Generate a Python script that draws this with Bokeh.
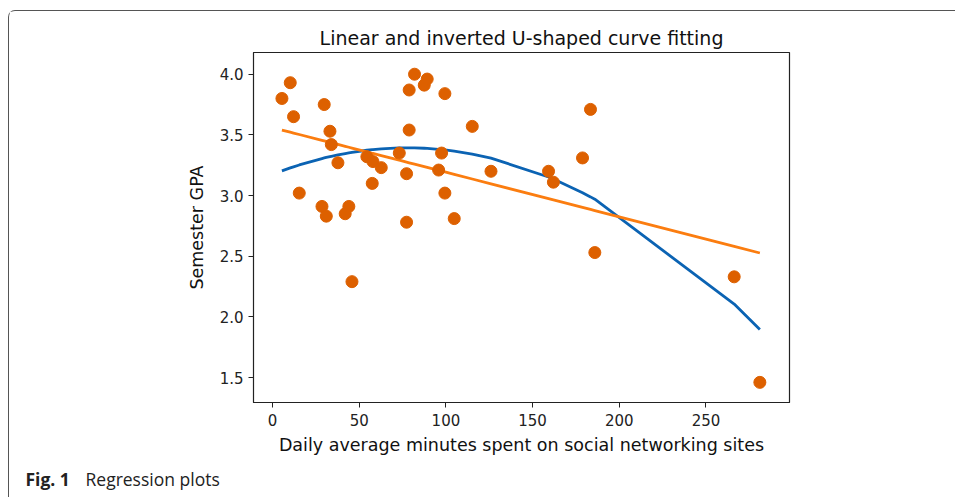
import numpy as np
from bokeh.plotting import figure
from bokeh.layouts import column
from bokeh.models import FixedTicker, PrintfTickFormatter, Range1d, Div
from bokeh.embed import file_html
from bokeh.resources import INLINE

# Data
minutes = [5.4, 10.2, 12.1, 15.4, 28.5, 29.8, 31.0, 33.1, 33.9, 37.7,
           41.9, 44.0, 45.8, 54.4, 57.5, 57.9, 62.7, 73.1, 77.3, 77.3,
           78.8, 78.8, 81.9, 87.5, 89.2, 95.8, 97.5, 99.4, 99.4, 104.8,
           115.2, 126.0, 159.2, 162.0, 178.8, 183.4, 185.9, 266.3, 281.1]
gpa = [3.80, 3.93, 3.65, 3.02, 2.91, 3.75, 2.83, 3.53, 3.42, 3.27,
       2.85, 2.91, 2.29, 3.32, 3.10, 3.28, 3.23, 3.35, 3.18, 2.78,
       3.54, 3.87, 4.00, 3.91, 3.96, 3.21, 3.35, 3.84, 3.02, 2.81,
       3.57, 3.20, 3.20, 3.11, 3.31, 3.71, 2.53, 2.33, 1.46]

x_ticks = [0, 50, 100, 150, 200, 250]
y_ticks = [1.5, 2.0, 2.5, 3.0, 3.5, 4.0]

title_text = "Linear and inverted U-shaped curve fitting"
x_label = "Daily average minutes spent on social networking sites"
y_label = "Semester GPA"
caption_bold = "Fig. 1"
caption_text = "Regression plots"

# regression fits of the data, drawn at the sorted observed x values
xs = np.sort(np.array(minutes))
lin = np.polyfit(minutes, gpa, 1)
quad = np.polyfit(minutes, gpa, 2)
y_lin = np.polyval(lin, xs)
y_quad = np.polyval(quad, xs)

FONT = "DejaVu Sans"
CANVAS_W = 940

p = figure(frame_width=536, frame_height=350,
           min_border_left=244, min_border_right=CANVAS_W - 244 - 536,
           min_border_top=41, min_border_bottom=58,
           output_backend="svg", toolbar_location=None,
           x_range=Range1d(-11, 298.2), y_range=Range1d(1.294, 4.179),
           title=title_text)

p.title.align = "center"
p.title.text_font = FONT
p.title.text_font_size = "19px"
p.title.text_font_style = "normal"
p.title.text_color = "#111111"
p.title.standoff = 7

p.xgrid.visible = False
p.ygrid.visible = False
p.outline_line_color = "#222222"
p.outline_line_width = 1.2

for ax in (p.xaxis[0], p.yaxis[0]):
    ax.axis_line_color = "#222222"
    ax.major_tick_line_color = "#222222"
    ax.major_tick_out = 5
    ax.major_tick_in = 0
    ax.minor_tick_line_color = None
    ax.major_label_text_font = FONT
    ax.major_label_text_font_size = "15px"
    ax.major_label_text_color = "#222222"
    ax.axis_label_text_font = FONT
    ax.axis_label_text_font_size = "17.5px"
    ax.axis_label_text_font_style = "normal"
    ax.axis_label_text_color = "#111111"

p.xaxis.ticker = FixedTicker(ticks=x_ticks)
p.yaxis.ticker = FixedTicker(ticks=y_ticks)
p.yaxis.formatter = PrintfTickFormatter(format="%.1f")
p.xaxis.axis_label = x_label
p.yaxis.axis_label = y_label
p.xaxis.major_label_standoff = 6
p.yaxis.major_label_standoff = 5
p.xaxis.axis_label_standoff = 6
p.yaxis.axis_label_standoff = 10

p.line(xs, y_quad, line_color="#0b63b3", line_width=2.8)
p.line(xs, y_lin, line_color="#fb7d10", line_width=2.8)
p.scatter(minutes, gpa, size=12, fill_color="#dd6000", line_color="#dd6000")

# figure caption below the chart
cap = Div(
    text=('<span style="display:inline-block;width:60px;font-weight:bold">'
          + caption_bold + '</span><span>' + caption_text + '</span>'),
    width=CANVAS_W, height=34,
    styles={"font-family": "'Open Sans', sans-serif", "font-size": "17.5px",
            "color": "#222222", "padding-left": "11.5px",
            "padding-top": "2px", "line-height": "normal",
            "box-sizing": "border-box"})

layout = column(p, cap, spacing=0)
layout.styles = {"border-left": "1px solid #555555",
                 "border-top": "1px solid #555555",
                 "border-top-left-radius": "7px",
                 "margin-top": "10px",
                 "margin-left": "8px"}

open("out.html", "w").write(file_html(layout, INLINE))
